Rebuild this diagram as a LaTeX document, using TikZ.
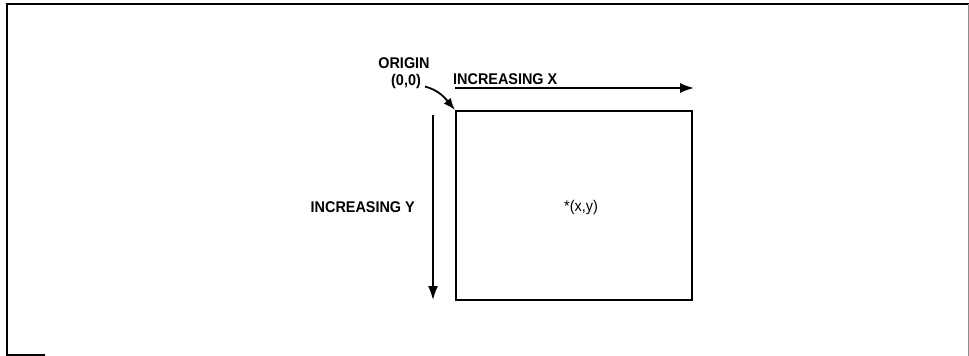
\documentclass[tikz,border=0pt]{standalone}
\usepackage{fontspec}
\setmainfont{Liberation Sans}[FakeStretch=0.93]
\usetikzlibrary{arrows.meta}
\tikzset{
  lbl/.style={font=\bfseries\fontsize{15.5}{16}\selectfont, inner sep=0pt},
  axis/.style={line width=1.6pt, -{Latex[length=14pt,width=10pt]}}
}
\begin{document}
\begin{tikzpicture}[x=1pt,y=-1pt]
  \useasboundingbox (0,0) rectangle (969,356);
  % page frame
  \draw[line width=1.6pt] (7,356) -- (7,4) -- (969,4);
  \draw[line width=0.6pt,black!45] (968,4) -- (968,356);
  \draw[line width=1.2pt] (7,355) -- (45,355);
  % screen
  \node[draw,line width=2pt,minimum width=236pt,minimum height=189pt,inner sep=0pt] (screen) at (574,205.5) {};
  \node[lbl,font=\fontsize{15.5}{16}\selectfont] (point) at (581,207) {*(x,y)};
  % axes
  \coordinate (xstart) at (455,88);
  \coordinate (xend) at (694,88);
  \coordinate (ystart) at (433,115);
  \coordinate (yend) at (433,300);
  \draw[axis] (xstart) -- (xend);
  \draw[axis] (ystart) -- (yend);
  \node[lbl,anchor=west] (incx) at (453,79) {INCREASING X};
  \node[lbl,anchor=east] (incy) at (415,207) {INCREASING Y};
  % origin
  \node[lbl] (origin) at (404,63) {ORIGIN};
  \node[lbl] (zero) at (406,81.5) {(0,0)};
  \draw[line width=1.8pt,-{Latex[length=12pt,width=9pt]}] (zero.east) ++(4,5) to[out=-15,in=130] (screen.north west);
\end{tikzpicture}
\end{document}
